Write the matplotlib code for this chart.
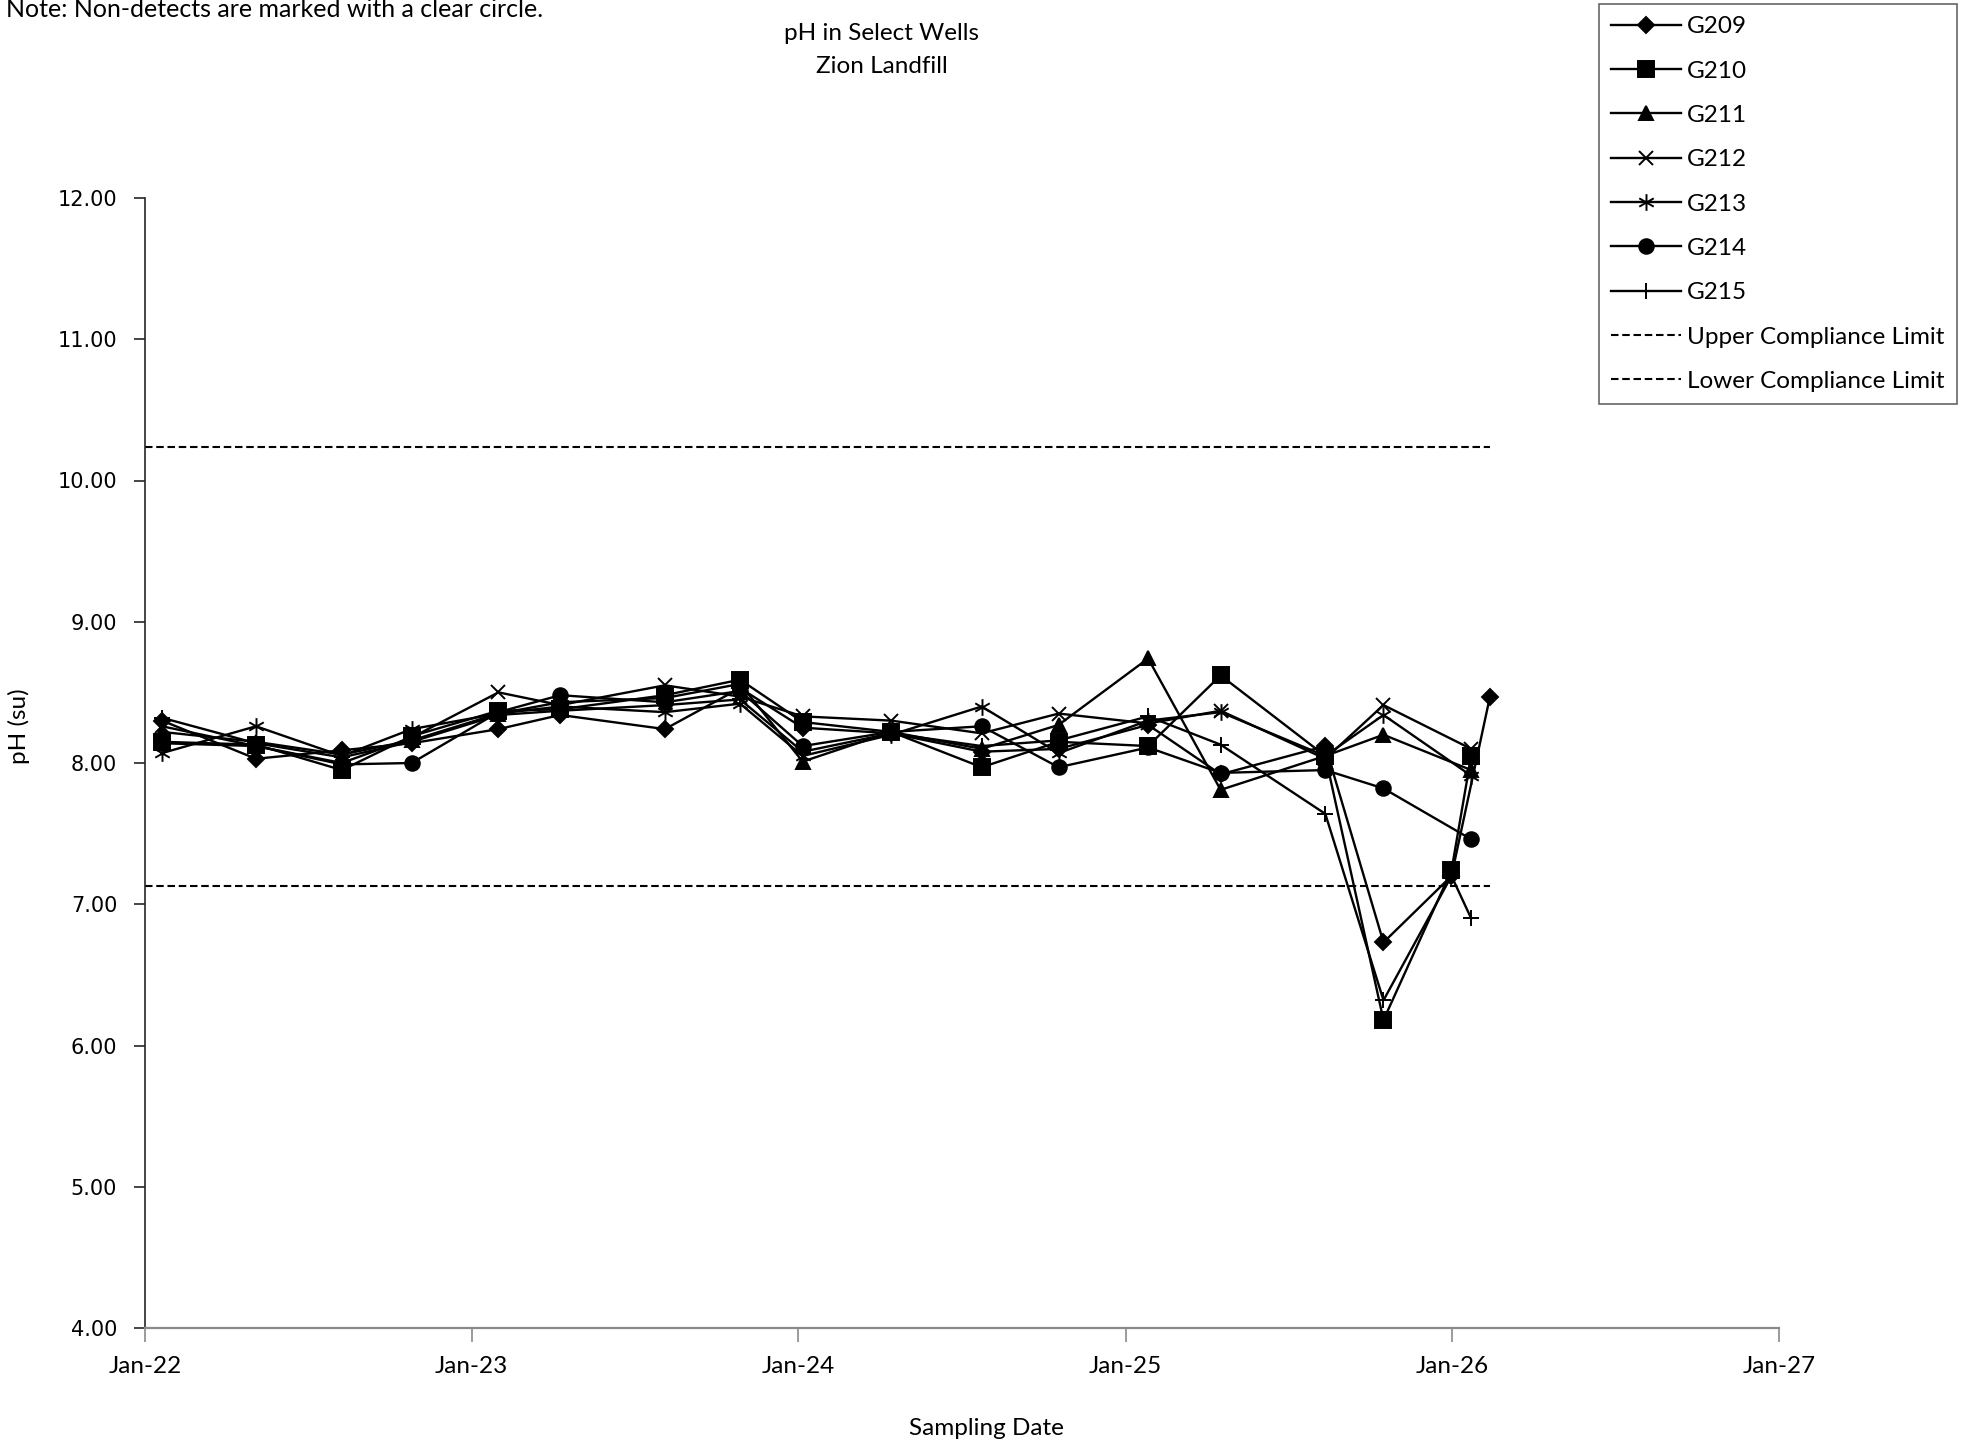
import numpy as np
import pandas as pd
import matplotlib
matplotlib.use("Agg")
import matplotlib.pyplot as plt
import matplotlib.dates as mdates
from matplotlib.path import Path

plt.rcParams['font.family'] = ['Lato', 'DejaVu Sans']

# sampling events shared by all wells
dates = ['2022-01-20', '2022-05-05', '2022-08-09', '2022-10-26', '2023-01-31',
         '2023-04-10', '2023-08-05', '2023-10-28', '2024-01-06', '2024-04-14',
         '2024-07-24', '2024-10-18', '2025-01-26', '2025-04-17', '2025-08-12',
         '2025-10-16']

g209 = [8.30, 8.03, 8.09, 8.14, 8.24, 8.34, 8.24, 8.53, 8.25, 8.21, 8.08, 8.10, 8.27, 7.92, 8.12, 6.73]
g210 = [8.15, 8.13, 7.95, 8.19, 8.37, 8.38, 8.48, 8.59, 8.29, 8.22, 7.97, 8.15, 8.12, 8.62, 8.05, 6.18]
g211 = [8.22, 8.15, 8.06, 8.16, 8.35, 8.43, 8.46, 8.56, 8.01, 8.22, 8.10, 8.27, 8.74, 7.81, 8.05, 8.20]
g212 = [8.26, 8.12, 8.00, 8.18, 8.50, 8.41, 8.55, 8.47, 8.33, 8.30, 8.21, 8.35, 8.28, 8.37, 8.03, 8.41]
g213 = [8.07, 8.26, 8.05, 8.24, 8.35, 8.40, 8.36, 8.42, 8.05, 8.20, 8.40, 8.07, 8.30, 8.36, 8.05, 8.34]
g214 = [8.14, 8.12, 7.99, 8.00, 8.36, 8.48, 8.43, 8.51, 8.12, 8.22, 8.26, 7.97, 8.11, 7.93, 7.95, 7.82]
g215 = [8.32, 8.14, 8.04, 8.15, 8.34, 8.37, 8.41, 8.45, 8.08, 8.21, 8.12, 8.16, 8.33, 8.13, 7.64, 6.32]

# resamples around the turn of 2026
g209_tail_dates = ['2025-12-31', '2026-02-12']
g209_tail = [7.20, 8.47]
g210_tail_dates = ['2025-12-31', '2026-01-22']
g210_tail = [7.24, 8.05]
g215_tail_dates = ['2025-12-31', '2026-01-22']
g215_tail = [7.20, 6.90]
late_dates = ['2026-01-22']
g211_tail = [7.95]
g212_tail = [8.10]
g213_tail = [7.91]
g214_tail = [7.46]

wells = ['G209', 'G210', 'G211', 'G212', 'G213', 'G214', 'G215']
upper_limit = 10.24
lower_limit = 7.13
limit_dates = ['2022-01-01', '2026-02-12']

# asterisk marker made of three strokes, like the spreadsheet one
ast = Path([(0, -1), (0, 1), (-0.87, -0.5), (0.87, 0.5), (-0.87, 0.5), (0.87, -0.5)],
           [Path.MOVETO, Path.LINETO, Path.MOVETO, Path.LINETO, Path.MOVETO, Path.LINETO])

series = [
    (g209, g209_tail_dates, g209_tail, 'D', 8.5),
    (g210, g210_tail_dates, g210_tail, 's', 11),
    (g211, late_dates, g211_tail, '^', 10),
    (g212, late_dates, g212_tail, 'x', 10),
    (g213, late_dates, g213_tail, ast, 12),
    (g214, late_dates, g214_tail, 'o', 10.5),
    (g215, g215_tail_dates, g215_tail, '+', 11),
]

fs = 17.5

fig = plt.figure(figsize=(19.74, 14.47), dpi=100)
ax = fig.add_axes([145/1974, 1 - 1328/1447, (1779 - 145)/1974, (1328 - 198)/1447])

for name, (vals, tdates, tvals, mk, ms) in zip(wells, series):
    x = pd.to_datetime(dates + tdates)
    y = vals + tvals
    ax.plot(x, y, color='black', lw=1.7, marker=mk, markersize=ms,
            markerfacecolor='black', markeredgecolor='black', markeredgewidth=1.4,
            label=name, zorder=3)

ld = pd.to_datetime(limit_dates)
ax.plot(ld, [upper_limit, upper_limit], color='black', lw=1.5, ls=(0, (3.6, 1.8)),
        label='Upper Compliance Limit')
ax.plot(ld, [lower_limit, lower_limit], color='black', lw=1.5, ls=(0, (3.6, 1.8)),
        label='Lower Compliance Limit')

ax.set_xlim(pd.Timestamp('2022-01-01'), pd.Timestamp('2027-01-01'))
ax.set_ylim(4, 12)
ax.set_yticks(np.arange(4, 12.01, 1))
ax.yaxis.set_major_formatter(plt.FormatStrFormatter('%.2f'))
ax.xaxis.set_major_locator(mdates.YearLocator())
ax.xaxis.set_major_formatter(mdates.DateFormatter('%b-%y'))

for s in ['top', 'right']:
    ax.spines[s].set_visible(False)
ax.spines['left'].set_color('#262626')
ax.spines['left'].set_linewidth(1.2)
ax.spines['bottom'].set_color('#8a8a8a')
ax.spines['bottom'].set_linewidth(1.6)
ax.tick_params(axis='y', direction='out', length=8, width=1.2, color='#262626', pad=12,
               labelsize=15, labelfontfamily='DejaVu Sans')
ax.tick_params(axis='x', direction='out', length=10, width=1.2, color='#8a8a8a',
               labelsize=fs, pad=10)

ax.set_ylabel('pH (su)', fontsize=fs)
ax.set_xlabel('Sampling Date', fontsize=fs)
ax.yaxis.set_label_coords((30 - 145)/1634, (1328 - 726)/1130)
ax.xaxis.set_label_coords((986 - 145)/1634, (1328 - 1418)/1130)

fig.text(882/1974, 1 - 33.5/1447, 'pH in Select Wells', ha='center', va='center', fontsize=fs)
fig.text(882/1974, 1 - 66.5/1447, 'Zion Landfill', ha='center', va='center', fontsize=fs)
fig.text(0.003, 1 - 17/1447, 'Note: Non-detects are marked with a clear circle.',
         ha='left', va='baseline', fontsize=18)

leg = fig.legend(loc='upper right', bbox_to_anchor=(1957/1974, 1 - 4/1447),
                 fontsize=fs, frameon=True, fancybox=False, handlelength=2.9,
                 handletextpad=0.25, labelspacing=0.96, borderpad=0.5, borderaxespad=0)
leg.get_frame().set_edgecolor('#404040')
leg.get_frame().set_linewidth(1.2)

fig.savefig('out.png', dpi=100)
